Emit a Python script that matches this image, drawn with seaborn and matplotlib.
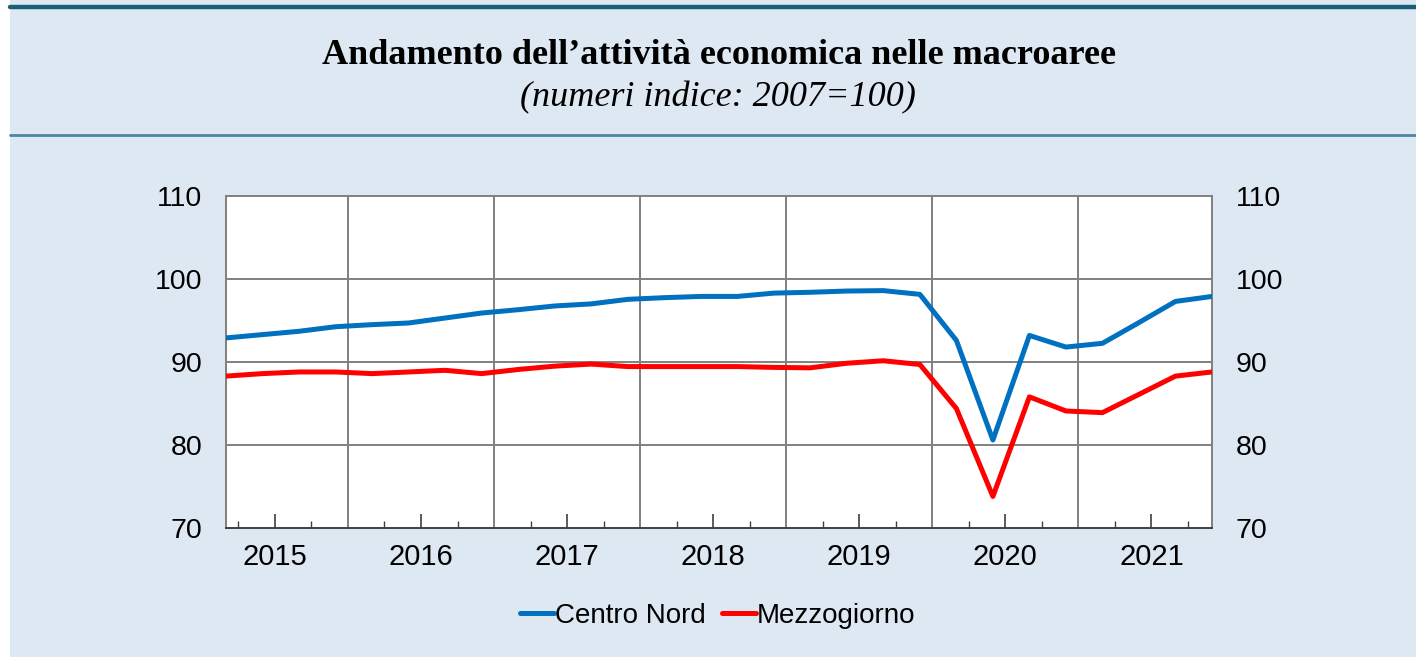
import numpy as np
import pandas as pd
import matplotlib
matplotlib.use("Agg")
import matplotlib.pyplot as plt
import seaborn as sns

# -------------------------------
# Data (quarterly, 2015Q1 - 2021Q4)
# -------------------------------
years = [2015, 2016, 2017, 2018, 2019, 2020, 2021]
quarters = [1, 2, 3, 4]
centro_nord = [92.9, 93.3, 93.7, 94.25, 94.5, 94.7, 95.3, 95.9,
               96.3, 96.75, 97.0, 97.55, 97.75, 97.9, 97.9, 98.3,
               98.4, 98.55, 98.6, 98.15, 92.6, 80.6, 93.2, 91.8,
               92.25, 94.75, 97.3, 97.9]
mezzogiorno = [88.3, 88.6, 88.8, 88.8, 88.6, 88.8, 89.0, 88.6,
               89.1, 89.5, 89.75, 89.45, 89.45, 89.45, 89.45, 89.35,
               89.3, 89.85, 90.15, 89.7, 84.4, 73.8, 85.8, 84.1,
               83.9, 86.1, 88.3, 88.8]
series_names = ["Centro Nord", "Mezzogiorno"]
colors = ["#0070c0", "#ff0000"]
y_ticks = [70, 80, 90, 100, 110]

# quarter position on a continuous year axis
x_pos = [y + 0.25 * (q - 1) + 0.165 for y in years for q in quarters]

df = pd.DataFrame({
    "x": x_pos * 2,
    "valore": centro_nord + mezzogiorno,
    "serie": [series_names[0]] * len(x_pos) + [series_names[1]] * len(x_pos),
})

# -------------------------------
# Figure
# -------------------------------
sns.set_style("white")
plt.rcParams["font.family"] = ["Liberation Sans", "DejaVu Sans"]
plt.rcParams["text.color"] = "black"
plt.rcParams["xtick.color"] = "black"
plt.rcParams["ytick.color"] = "black"

bg = "#dee8f2"
fig = plt.figure(figsize=(14.16, 6.57), dpi=100, facecolor=bg)

# white strip on the left + header lines
fig.patches.append(plt.Rectangle((0, 0), 10 / 1416, 1, transform=fig.transFigure,
                                 facecolor="white", edgecolor="none", zorder=0))
fig.add_artist(plt.Line2D([10 / 1416, 1], [1 - 7 / 657] * 2, color="#1b5e78", lw=3.2))
fig.add_artist(plt.Line2D([10 / 1416, 1], [1 - 135 / 657] * 2, color="#4c87a3", lw=2))

fig.text(0.508, 1 - 55 / 657, "Andamento dell\u2019attività economica nelle macroaree",
         ha="center", va="center", fontsize=26, fontweight="bold", color="black",
         family=["Liberation Serif", "DejaVu Serif"])
fig.text(0.507, 1 - 98 / 657, "(numeri indice: 2007=100)",
         ha="center", va="center", fontsize=26, style="italic", color="black",
         family=["Liberation Serif", "DejaVu Serif"])

ax = fig.add_axes([226 / 1416, 1 - 528 / 657, (1212 - 226) / 1416, (528 - 196) / 657])
ax.set_facecolor("white")

sns.lineplot(data=df, x="x", y="valore", hue="serie", palette=colors,
             linewidth=3.6, ax=ax, legend=True, zorder=3)

ax.set_xlim(x_pos[0], x_pos[-1])
ax.set_ylim(70, 110)

# grid lines
for yv in y_ticks[1:-1]:
    ax.axhline(yv, color="#808080", lw=1.4, zorder=1)
for yr in years[1:]:
    ax.axvline(yr, color="#808080", lw=1.4, zorder=1)

# ticks
ax.set_xticks([y + 0.5 for y in years])
ax.set_xticklabels([str(y) for y in years])
ax.set_xticks([y + d for y in years for d in (0.25, 0.75)], minor=True)
ax.tick_params(axis="x", which="major", direction="in", length=10, width=1.2,
               color="#404040", labelsize=21, pad=11, bottom=True)
ax.tick_params(axis="x", which="minor", direction="in", length=5, width=1.0,
               color="#404040", bottom=True)
ax.set_yticks(y_ticks)
ax.tick_params(axis="y", length=0, labelsize=20.5, pad=17,
               labelleft=True, labelright=True)
ax.set_xlabel("")
ax.set_ylabel("")

for s in ax.spines.values():
    s.set_color("#808080")
    s.set_linewidth(1.4)
ax.spines["bottom"].set_color("#404040")

# legend
handles, labels = ax.get_legend_handles_labels()
leg = ax.legend(handles, labels, loc="center", bbox_to_anchor=(0.499, -0.265),
                ncol=2, frameon=False, fontsize=20, handlelength=1.2,
                handletextpad=0.05, columnspacing=0.6)
for t in leg.get_texts():
    t.set_color("black")

fig.savefig("out.png", dpi=100, facecolor=bg)
